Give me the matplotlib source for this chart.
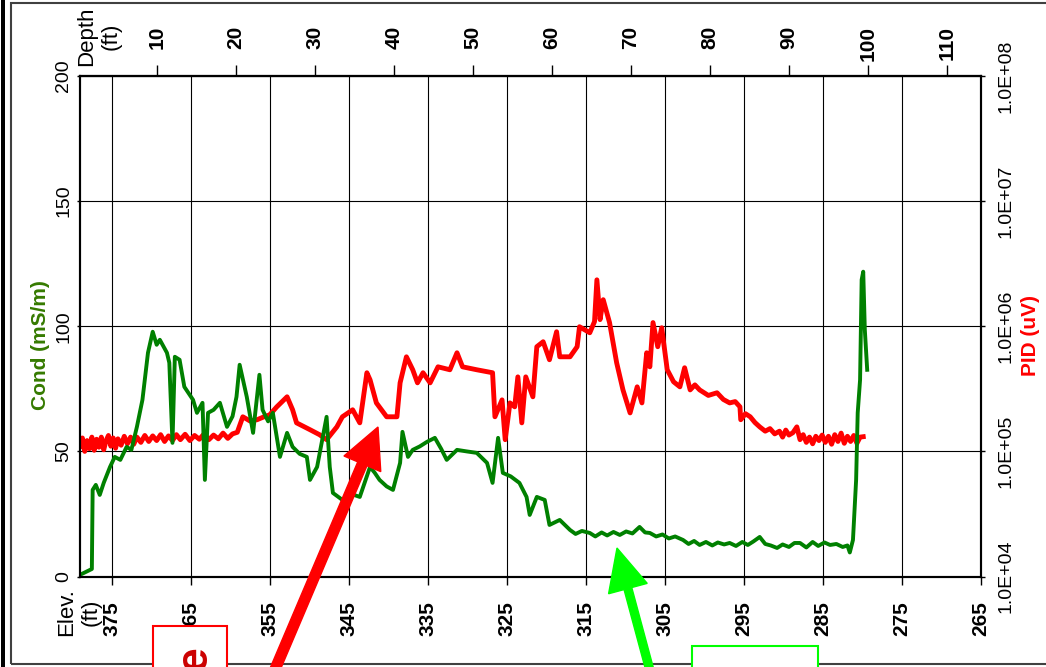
import matplotlib.pyplot as plt
import numpy as np
from matplotlib.patches import FancyArrow, Rectangle
from matplotlib.transforms import IdentityTransform
from matplotlib.ticker import NullLocator

plt.rcParams['font.family'] = ['Liberation Sans', 'DejaVu Sans']

# ground elevation (ft) -> depth = ground - elevation
ground = 379.3
elev_ticks = [375, 365, 355, 345, 335, 325, 315, 305, 295, 285, 275, 265]
depth_ticks = [10, 20, 30, 40, 50, 60, 70, 80, 90, 100, 110]
cond_ticks = [0, 50, 100, 150, 200]
pid_ticks = [1e4, 1e5, 1e6, 1e7, 1e8]
pid_labels = ['1.0E+04', '1.0E+05', '1.0E+06', '1.0E+07', '1.0E+08']

# conductivity log (depth ft, mS/m)
cond_depth = [0.25, 1.8, 1.9, 2.3, 2.8, 3.3, 4.1, 4.7, 5.4, 6.2, 6.8, 7.5, 8.2, 8.9, 9.5,
              10.0, 10.4, 11.3, 11.6, 12.0, 12.3, 12.9, 13.5, 14.6, 15.1, 15.8, 16.1, 16.5,
              17.2, 18.0, 18.9, 19.6, 20.1, 20.5, 21.4, 22.2, 23.0, 23.4, 24.1, 24.7, 25.6,
              26.5, 27.2, 28.1, 29.0, 29.4, 30.3, 31.5, 31.9, 32.3, 33.5, 34.6, 35.7, 37.0,
              37.6, 38.2, 39.1, 39.9, 40.8, 41.1, 41.8, 42.4, 43.3, 44.2, 45.2, 46.0, 46.7,
              48.0, 49.2, 50.5, 51.8, 52.5, 53.2, 53.8, 54.8, 55.9, 56.8, 57.2, 58.1, 59.1,
              59.7, 61.0, 62.3, 63.0, 63.8, 64.8, 65.5, 66.3, 67.0, 67.8, 68.6, 69.4, 70.2,
              71.1, 71.8, 72.4, 73.2, 74.0, 74.8, 75.6, 76.6, 77.3, 78.0, 78.7, 79.5, 80.3,
              81.0, 81.8, 82.5, 83.3, 84.1, 84.8, 85.5, 86.3, 87.0, 87.7, 88.5, 89.2, 90.0,
              90.7, 91.4, 92.2, 93.0, 93.7, 94.5, 95.2, 96.0, 96.8, 97.4, 97.7, 98.1, 98.5,
              98.7, 99.0, 99.2, 99.4, 99.6, 99.9]
cond_val = [0.6, 3.0, 34.6, 36.6, 32.6, 37.4, 43.8, 47.8, 46.6, 51.8, 50.6, 59.8, 70.6, 89.4, 97.8,
            92.6, 94.6, 89.4, 85.4, 53.4, 87.8, 86.6, 75.8, 70.6, 65.4, 69.4, 38.6, 65.4,
            66.6, 69.4, 59.8, 64.0, 71.8, 84.6, 71.8, 57.4, 80.6, 66.6, 62.0, 65.4, 47.8,
            57.4, 51.8, 49.0, 47.8, 38.6, 43.8, 63.8, 43.8, 33.4, 30.6, 33.0, 31.8, 43.8,
            41.4, 38.6, 36.0, 34.6, 45.4, 57.8, 47.8, 50.6, 52.0, 53.8, 55.4, 51.0, 46.6,
            50.6, 50.0, 49.4, 45.4, 37.4, 55.4, 41.4, 40.0, 37.4, 31.8, 24.6, 31.8, 30.6,
            20.6, 22.6, 18.6, 17.0, 18.2, 17.4, 16.0, 17.6, 16.4, 17.8, 16.6, 18.0, 17.2,
            19.8, 17.6, 17.4, 16.0, 16.8, 15.2, 16.0, 14.6, 13.0, 14.2, 12.6, 13.8, 12.4,
            13.6, 12.8, 13.4, 12.2, 13.8, 12.6, 14.0, 15.8, 13.0, 12.4, 11.4, 12.8, 11.8,
            13.4, 13.4, 11.6, 13.8, 12.2, 13.6, 12.6, 13.0, 11.8, 12.4, 9.6, 14.6, 38.6,
            65.4, 78.6, 118.6, 121.8, 98.6, 82.6]

# PID log (depth ft, uV)
pid_depth = [0.3, 0.6, 0.9, 1.2, 1.5, 1.8, 2.1, 2.4, 2.7, 3.0, 3.3, 3.6, 3.9, 4.2, 4.5, 4.8,
             5.1, 5.5, 5.9, 6.3, 6.7, 7.1, 7.5, 8.0, 8.5, 9.0, 9.5, 10.0, 10.5, 11.0, 11.5,
             12.0, 12.5, 13.0, 13.6, 14.2, 14.8, 15.4, 16.0, 16.6, 17.2, 17.8, 18.4, 19.0,
             19.6, 20.2, 20.9, 21.8, 22.7, 23.5, 24.3, 25.2, 26.5, 27.2, 27.7, 29.4, 30.6,
             31.5, 32.8, 33.5, 34.8, 35.7, 36.6, 37.0, 37.8, 39.1, 40.4, 40.8, 41.6, 42.4,
             43.0, 43.7, 44.6, 45.6, 47.1, 48.0, 48.7, 50.5, 52.5, 52.8, 53.7, 54.1, 54.7,
             55.3, 55.7, 56.2, 56.7, 57.6, 58.1, 58.9, 59.7, 60.6, 61.0, 62.3, 63.2, 63.5,
             64.8, 65.4, 65.7, 66.1, 66.5, 67.3, 68.2, 69.0, 69.9, 70.8, 71.4, 72.0, 72.4,
             72.8, 73.4, 73.9, 74.6, 75.4, 76.2, 76.8, 77.5, 78.1, 78.7, 79.8, 80.9, 81.7,
             82.5, 83.2, 83.8, 83.9, 84.5, 85.1, 85.7, 86.3, 87.0, 87.6, 88.2, 88.8, 89.2,
             89.6, 90.0, 90.5, 91.0, 91.4, 91.8, 92.2, 92.6, 93.0, 93.4, 93.8, 94.2, 94.6,
             95.0, 95.4, 95.8, 96.2, 96.6, 97.0, 97.4, 97.8, 98.2, 98.6, 99.0, 99.4]
pid_val = [1.10e5, 1.28e5, 1.00e5, 1.22e5, 1.05e5, 1.30e5, 1.02e5, 1.25e5, 1.08e5, 1.30e5,
           1.03e5, 1.22e5, 1.34e5, 1.10e5, 1.28e5, 1.06e5, 1.26e5, 1.12e5, 1.32e5, 1.15e5,
           1.30e5, 1.14e5, 1.30e5, 1.18e5, 1.34e5, 1.20e5, 1.33e5, 1.22e5, 1.36e5, 1.20e5,
           1.33e5, 1.22e5, 1.36e5, 1.24e5, 1.37e5, 1.22e5, 1.34e5, 1.25e5, 1.38e5, 1.24e5,
           1.35e5, 1.26e5, 1.40e5, 1.27e5, 1.38e5, 1.42e5, 1.89e5, 1.75e5, 1.79e5, 1.88e5,
           1.96e5, 2.27e5, 2.73e5, 2.15e5, 1.69e5, 1.49e5, 1.36e5, 1.24e5, 1.57e5, 1.89e5,
           2.15e5, 1.69e5, 4.25e5, 3.73e5, 2.44e5, 1.89e5, 1.89e5, 3.53e5, 5.70e5, 4.49e5,
           3.53e5, 4.25e5, 3.53e5, 4.74e5, 4.49e5, 6.14e5, 4.74e5, 4.49e5, 4.25e5, 1.89e5,
           2.58e5, 1.24e5, 2.44e5, 2.27e5, 3.94e5, 1.69e5, 3.94e5, 2.73e5, 6.86e5, 7.52e5,
           5.40e5, 9.04e5, 5.70e5, 5.70e5, 6.86e5, 9.91e5, 8.87e5, 1.09e6, 2.35e6, 1.13e6,
           1.63e6, 1.07e6, 5.11e5, 3.10e5, 2.03e5, 3.28e5, 2.44e5, 6.14e5, 4.74e5, 1.07e6,
           6.86e5, 9.73e5, 4.49e5, 3.60e5, 3.28e5, 4.66e5, 3.10e5, 3.40e5, 3.10e5, 2.80e5,
           2.94e5, 2.60e5, 2.44e5, 2.50e5, 2.27e5, 1.79e5, 2.00e5, 1.89e5, 1.70e5, 1.57e5,
           1.45e5, 1.52e5, 1.38e5, 1.45e5, 1.30e5, 1.48e5, 1.35e5, 1.41e5, 1.57e5, 1.24e5,
           1.36e5, 1.18e5, 1.30e5, 1.15e5, 1.32e5, 1.22e5, 1.35e5, 1.18e5, 1.32e5, 1.14e5,
           1.36e5, 1.20e5, 1.40e5, 1.16e5, 1.32e5, 1.20e5, 1.34e5, 1.16e5, 1.30e5, 1.31e5]

W, H = 1046, 667
fig = plt.figure(figsize=(W / 100, H / 100), dpi=100, facecolor='white')

# PID axis is the base one (grid lives here), Cond is drawn on top
axp = fig.add_axes([80 / W, 1 - 576.5 / H, 901 / W, 500.5 / H])
axc = axp.twinx()
axp.yaxis.tick_right()
axp.yaxis.set_label_position('right')
axc.yaxis.tick_left()
axc.yaxis.set_label_position('left')

axp.plot(pid_depth, pid_val, color='#ff0000', linewidth=3.5, solid_joinstyle='round')
axc.plot(cond_depth, cond_val, color='#008000', linewidth=2.8, solid_joinstyle='round')

axp.set_yscale('log')
axp.set_ylim(1e4, 1e8)
axp.set_yticks(pid_ticks)
axp.set_yticklabels(pid_labels, rotation=90, va='center', fontsize=14)
axp.yaxis.set_minor_locator(NullLocator())
axp.tick_params(axis='y', direction='out', length=3, width=1, pad=9)

axp.set_xlim(ground - 379.0, ground - 265.0)
axp.set_xticks([ground - e for e in elev_ticks])
axp.set_xticklabels([str(e) for e in elev_ticks], rotation=90, fontsize=15, fontweight='bold')
axp.tick_params(axis='x', direction='out', length=6, width=1, pad=12)
axp.grid(True, color='black', linewidth=0.8)

axc.set_ylim(0, 200)
axc.set_yticks(cond_ticks)
axc.set_yticklabels([str(c) for c in cond_ticks], rotation=90, va='center', fontsize=14)
axc.tick_params(axis='y', direction='out', length=2.5, width=1, pad=3)

for a in (axp, axc):
    for s in a.spines.values():
        s.set_linewidth(1.5)

# depth scale on top
top = axp.secondary_xaxis('top')
top.set_xticks(depth_ticks)
top.set_xticklabels([str(d) for d in depth_ticks], rotation=90, fontsize=15, fontweight='bold')
top.tick_params(direction='out', length=8, width=1, pad=28)
for lbl in top.get_xticklabels():
    lbl.set_va('top')
top.spines['top'].set_linewidth(1.5)

fig.text(41 / W, 1 - 345 / H, 'Cond (mS/m)', rotation=90, ha='center', va='center',
         color='#357a00', fontsize=15, fontweight='bold')
fig.text(1031 / W, 1 - 335 / H, 'PID (uV)', rotation=90, ha='center', va='center',
         color='#ff0000', fontsize=15, fontweight='bold')
fig.text(99 / W, 1 - 66 / H, 'Depth\n(ft)', rotation=90, ha='center', va='bottom',
         multialignment='center', fontsize=16)
fig.text(79 / W, 1 - 588 / H, 'Elev.\n(ft)', rotation=90, ha='center', va='top',
         multialignment='center', fontsize=16)

px = IdentityTransform()
# page frame
fig.add_artist(Rectangle((1, 0), 4, H, transform=px, facecolor='black', edgecolor='none', zorder=5))
fig.add_artist(Rectangle((11, 3), 1100, 661, transform=px, fill=False, edgecolor='#404040',
                         linewidth=1.5, zorder=5))

# callout boxes (cut off at the page edge in the original)
fig.add_artist(Rectangle((153, -5), 74, 46, transform=px, facecolor='white', edgecolor='#ff0000',
                         linewidth=1.5, zorder=11))
fig.add_artist(Rectangle((692, -5), 126, 26, transform=px, facecolor='white', edgecolor='#00ff00',
                         linewidth=1.5, zorder=11))
fig.text(195, 21, 'e', transform=px, rotation=90, ha='center', va='top', color='#cc0000',
         fontsize=32, fontweight='bold', zorder=12)

# arrows
fig.add_artist(FancyArrow(270.5, -13, 107.5, 253, width=10, head_width=40, head_length=40,
                          length_includes_head=True, color='#ff0000', transform=px, zorder=10))
fig.add_artist(FancyArrow(652.5, -13, -35.5, 132, width=8, head_width=40, head_length=42,
                          length_includes_head=True, color='#00ff00', transform=px, zorder=10))

fig.savefig('out.png', dpi=100)
